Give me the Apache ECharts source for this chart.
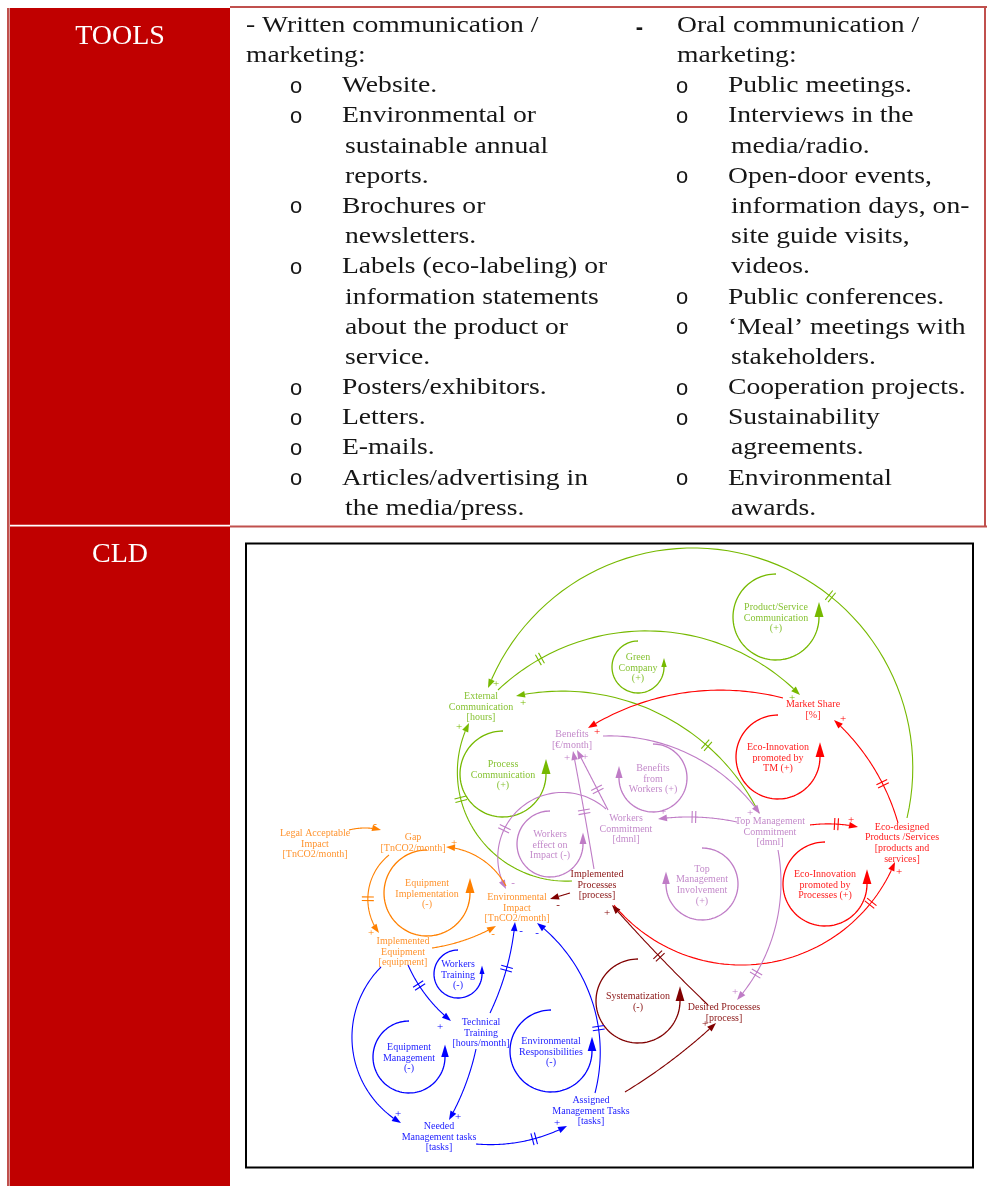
<!DOCTYPE html>
<html><head><meta charset="utf-8">
<script src="https://cdn.jsdelivr.net/npm/echarts@6/dist/echarts.min.js"></script>
<style>html,body{margin:0;padding:0;background:#fff}#c{width:987px;height:1186px}</style>
</head><body><div id="c"></div>
<script>
// ---------------- DATA ----------------
const ROW_LABELS = ['TOOLS', 'CLD'];
const WRITTEN_HEAD = ['- Written communication /', 'marketing:'];
const WRITTEN_ITEMS = [
  ['Website.'],
  ['Environmental or', 'sustainable annual', 'reports.'],
  ['Brochures or', 'newsletters.'],
  ['Labels (eco-labeling) or', 'information statements', 'about the product or', 'service.'],
  ['Posters/exhibitors.'],
  ['Letters.'],
  ['E-mails.'],
  ['Articles/advertising in', 'the media/press.']
];
const ORAL_HEAD = ['Oral communication /', 'marketing:'];
const ORAL_ITEMS = [
  ['Public meetings.'],
  ['Interviews in the', 'media/radio.'],
  ['Open-door events,', 'information days, on-', 'site guide visits,', 'videos.'],
  ['Public conferences.'],
  ['\u2018Meal\u2019 meetings with', 'stakeholders.'],
  ['Cooperation projects.'],
  ['Sustainability', 'agreements.'],
  ['Environmental', 'awards.']
];

// CLD variables: [label, group, x, y]
const CLD_NODES = [
  ['External\nCommunication\n[hours]', 'green', 481, 707],
  ['Market Share\n[%]', 'red', 813, 710],
  ['Benefits\n[\u20ac/month]', 'purple', 572, 740],
  ['Workers\nCommitment\n[dmnl]', 'purple', 626, 829],
  ['Top Management\nCommitment\n[dmnl]', 'purple', 770, 832],
  ['Eco-designed\nProducts /Services\n[products and\nservices]', 'red', 902, 843],
  ['Implemented\nProcesses\n[process]', 'maroon', 597, 885],
  ['Environmental\nImpact\n[TnCO2/month]', 'orange', 517, 908],
  ['Legal Acceptable\nImpact\n[TnCO2/month]', 'orange', 315, 844],
  ['Gap\n[TnCO2/month]', 'orange', 413, 843],
  ['Implemented\nEquipment\n[equipment]', 'orange', 403, 952],
  ['Technical\nTraining\n[hours/month]', 'blue', 481, 1033],
  ['Needed\nManagement tasks\n[tasks]', 'blue', 439, 1137],
  ['Assigned\nManagement Tasks\n[tasks]', 'blue', 591, 1111],
  ['Desired Processes\n[process]', 'maroon', 724, 1013]
];

// CLD loops: [label, group, cx, cy, r, dir(-1 ccw, 1 cw)]
const CLD_LOOPS = [
  ['Process\nCommunication\n(+)', 'green', 503, 774, 43, -1],
  ['Green\nCompany\n(+)', 'green', 638, 667, 26, -1],
  ['Product/Service\nCommunication\n(+)', 'green', 776, 617, 43, -1],
  ['Eco-Innovation\npromoted by\nTM (+)', 'red', 778, 757, 42, -1],
  ['Eco-Innovation\npromoted by\nProcesses (+)', 'red', 825, 884, 42, -1],
  ['Benefits\nfrom\nWorkers (+)', 'purple', 653, 778, 34, 1],
  ['Workers\neffect on\nImpact (-)', 'purple', 550, 844, 33, -1],
  ['Top\nManagement\nInvolvement\n(+)', 'purple', 702, 884, 36, 1],
  ['Equipment\nImplementation\n(-)', 'orange', 427, 893, 43, -1],
  ['Workers\nTraining\n(-)', 'blue', 458, 974, 24, -1],
  ['Equipment\nManagement\n(-)', 'blue', 409, 1057, 36, -1],
  ['Environmental\nResponsibilities\n(-)', 'blue', 551, 1051, 41, -1],
  ['Systematization\n(-)', 'maroon', 638, 1001, 42, -1]
];

// CLD causal links: start point, point on arc, end point, polarity, polarity spot, delay position along link
const CLD_LINKS = [
  {from:'Eco-designed', to:'External Communication', grp:'green', s:[907,818], v:[690,548], e:[488,688], sign:'+', lab:[496,684], delay:0.38},
  {from:'External Communication', to:'Market Share', grp:'green', s:[498,690], v:[640,631], e:[800,695], sign:'+', lab:[792,698], delay:0.15},
  {from:'Top Management Commitment', to:'External Communication', grp:'green', s:[759,813], v:[687,730], e:[516,696], sign:'+', lab:[523,703], delay:0.3},
  {from:'Implemented Processes', to:'External Communication', grp:'green', s:[572,881], v:[461,800], e:[469,723], sign:'+', lab:[459,727], delay:0.65},
  {from:'Market Share', to:'Benefits', grp:'red', s:[783,698], v:[690,692], e:[588,728], sign:'+', lab:[597,732], delay:null},
  {from:'Eco-designed', to:'Market Share', grp:'red', s:[898,823], v:[863,752], e:[834,720], sign:'+', lab:[843,719], delay:0.35},
  {from:'Top Management Commitment', to:'Eco-designed', grp:'red', s:[810,825], v:[834,824], e:[858,827], sign:'+', lab:[851,820], delay:0.55},
  {from:'Implemented Processes', to:'Eco-designed', grp:'red', s:[614,905], v:[740,965], e:[895,862], sign:'+', lab:[899,872], delay:0.86},
  {from:'Workers Commitment', to:'Benefits', grp:'purple', s:[608,810], v:[593,781], e:[577,750], sign:'+', lab:[585,757], delay:0.35},
  {from:'Implemented Processes', to:'Benefits', grp:'purple', s:[594,869], v:[584,811], e:[573,751], sign:'+', lab:[567,758], delay:0.49},
  {from:'Benefits', to:'Top Management Commitment', grp:'purple', s:[603,736], v:[680,750], e:[760,814], sign:'+', lab:[750,813], delay:null},
  {from:'Top Management Commitment', to:'Workers Commitment', grp:'purple', s:[737,822], v:[693,817], e:[658,819], sign:'+', lab:[663,812], delay:0.55},
  {from:'Workers Commitment', to:'Environmental Impact', grp:'purple', s:[606,809], v:[523,806], e:[506,889], sign:'-', lab:[513,883], delay:0.66},
  {from:'Top Management Commitment', to:'Desired Processes', grp:'purple', s:[778,850], v:[778,915], e:[737,1000], sign:'+', lab:[735,992], delay:0.8},
  {from:'Legal Acceptable Impact', to:'Gap', grp:'orange', s:[349,830], v:[365,828], e:[381,830], sign:'-', lab:[375,824], delay:null},
  {from:'Environmental Impact', to:'Gap', grp:'orange', s:[506,886], v:[478,857], e:[446,847], sign:'+', lab:[454,843], delay:null},
  {from:'Gap', to:'Implemented Equipment', grp:'orange', s:[389,855], v:[368,895], e:[379,933], sign:'+', lab:[371,933], delay:0.58},
  {from:'Implemented Equipment', to:'Environmental Impact', grp:'orange', s:[432,948], v:[465,940], e:[496,926], sign:'-', lab:[493,934], delay:null},
  {from:'Implemented Processes', to:'Environmental Impact', grp:'maroon', s:[570,893], v:[560,896], e:[550,899], sign:'-', lab:[558,905], delay:null},
  {from:'Desired Processes', to:'Implemented Processes', grp:'maroon', s:[708,1005], v:[659,956], e:[612,905], sign:'+', lab:[607,913], delay:0.5},
  {from:'Assigned Management Tasks', to:'Desired Processes', grp:'maroon', s:[625,1092], v:[672,1060], e:[716,1023], sign:'+', lab:[705,1024], delay:null},
  {from:'Technical Training', to:'Environmental Impact', grp:'blue', s:[490,1013], v:[507,967], e:[515,922], sign:'-', lab:[521,931], delay:0.5},
  {from:'Assigned Management Tasks', to:'Environmental Impact', grp:'blue', s:[595,1093], v:[588,990], e:[537,923], sign:'-', lab:[537,933], delay:0.35},
  {from:'Implemented Equipment', to:'Technical Training', grp:'blue', s:[408,965], v:[425,994], e:[451,1021], sign:'+', lab:[440,1027], delay:0.33},
  {from:'Implemented Equipment', to:'Needed Management tasks', grp:'blue', s:[381,967], v:[352,1040], e:[401,1123], sign:'+', lab:[398,1114], delay:null},
  {from:'Technical Training', to:'Needed Management tasks', grp:'blue', s:[476,1049], v:[465,1086], e:[449,1120], sign:'+', lab:[458,1117], delay:null},
  {from:'Needed Management tasks', to:'Assigned Management Tasks', grp:'blue', s:[476,1144], v:[525,1141], e:[567,1126], sign:'+', lab:[557,1123], delay:0.62}
];

// ---------------- STYLE ----------------
const GRP = {
  green:  {line:'#76b900', text:'#86c232'},
  red:    {line:'#ff0000', text:'#ff1f1f'},
  purple: {line:'#bf7cc6', text:'#c48bcb'},
  orange: {line:'#ff8000', text:'#ff9430'},
  maroon: {line:'#800000', text:'#8a1515'},
  blue:   {line:'#0000ff', text:'#2323ff'}
};
const CLD_FONT = '10px "Liberation Serif"';
const CLD_LH = 10.7;
const TXT_FONT = '24px "Liberation Serif"';
const TXT_SX = 1.15;
const LINE0 = 25.5, LINE_H = 30.19;

// ---------------- HELPERS ----------------
function arcPts(a, m, b, n) {
  const lin = () => { const r = []; for (let i = 0; i <= n; i++) { const t = i / n; r.push([a[0] + (b[0] - a[0]) * t, a[1] + (b[1] - a[1]) * t]); } return r; };
  const d = 2 * (a[0] * (m[1] - b[1]) + m[0] * (b[1] - a[1]) + b[0] * (a[1] - m[1]));
  if (Math.abs(d) < 1e-9) return lin();
  const A = a[0]*a[0] + a[1]*a[1], M = m[0]*m[0] + m[1]*m[1], B = b[0]*b[0] + b[1]*b[1];
  const ux = (A * (m[1] - b[1]) + M * (b[1] - a[1]) + B * (a[1] - m[1])) / d;
  const uy = (A * (b[0] - m[0]) + M * (a[0] - b[0]) + B * (m[0] - a[0])) / d;
  const r = Math.hypot(a[0] - ux, a[1] - uy);
  if (r > 20000) return lin();
  const TAU = Math.PI * 2, nm = x => ((x % TAU) + TAU) % TAU;
  const t0 = Math.atan2(a[1] - uy, a[0] - ux), tm = Math.atan2(m[1] - uy, m[0] - ux), t1 = Math.atan2(b[1] - uy, b[0] - ux);
  const d1 = nm(t1 - t0), dm = nm(tm - t0);
  const sw = dm <= d1 ? d1 : d1 - TAU;
  const out = [];
  for (let i = 0; i <= n; i++) { const t = t0 + sw * i / n; out.push([ux + r * Math.cos(t), uy + r * Math.sin(t)]); }
  return out;
}
function unit(p, q) { const dx = q[0] - p[0], dy = q[1] - p[1]; const l = Math.hypot(dx, dy) || 1; return [dx / l, dy / l]; }

function tText(txt, x, i) {
  return {type:'text', x:x, y:LINE0 + LINE_H * i, scaleX:TXT_SX, z:5,
    style:{text:txt, fill:'#161616', font:TXT_FONT, textAlign:'left', align:'left', textVerticalAlign:'middle', verticalAlign:'middle'}};
}
function tBullet(x, i) {
  return {type:'text', x:x, y:LINE0 + LINE_H * i + 1, z:5,
    style:{text:'o', fill:'#161616', font:'22px "Liberation Mono"', textAlign:'center', align:'center', textVerticalAlign:'middle', verticalAlign:'middle'}};
}
function column(head, items, xHead, xBullet, xText, xCont) {
  const out = [];
  head.forEach((h, i) => out.push(tText(h, xHead, i)));
  let li = head.length;
  items.forEach(item => {
    out.push(tBullet(xBullet, li));
    item.forEach((t, j) => { out.push(tText(t, j === 0 ? xText : xCont, li)); li++; });
  });
  return out;
}

// ---------------- TABLE GRAPHICS ----------------
const BORDER = '#c0504d', CELL_RED = '#c00000';
const graphic = [
  {type:'rect', z:1, shape:{x:10, y:8, width:220, height:1178}, style:{fill:CELL_RED}},
  {type:'rect', z:1, shape:{x:7, y:8, width:2.6, height:1178}, style:{fill:BORDER}},
  {type:'rect', z:1, shape:{x:230, y:6, width:757, height:2}, style:{fill:BORDER}},
  {type:'rect', z:1, shape:{x:984, y:6, width:2, height:521}, style:{fill:BORDER}},
  {type:'rect', z:1, shape:{x:230, y:525.5, width:757, height:2}, style:{fill:BORDER}},
  {type:'rect', z:1, shape:{x:10, y:524.8, width:220, height:1.6}, style:{fill:'#ffffff'}},
  {type:'rect', z:1, shape:{x:246, y:543.5, width:727, height:624}, style:{fill:'#ffffff', stroke:'#000000', lineWidth:2}},
  {type:'text', z:5, x:120, y:36.5, style:{text:ROW_LABELS[0], fill:'#ffffff', font:'28px "Liberation Serif"', textAlign:'center', align:'center', textVerticalAlign:'middle', verticalAlign:'middle'}},
  {type:'text', z:5, x:120, y:555, style:{text:ROW_LABELS[1], fill:'#ffffff', font:'28px "Liberation Serif"', textAlign:'center', align:'center', textVerticalAlign:'middle', verticalAlign:'middle'}},
  {type:'text', z:5, x:639.5, y:27.5, style:{text:'-', fill:'#161616', font:'bold 22px "Liberation Sans"', textAlign:'center', align:'center', textVerticalAlign:'middle', verticalAlign:'middle'}}
].concat(
  column(WRITTEN_HEAD, WRITTEN_ITEMS, 246, 296, 342, 345),
  column(ORAL_HEAD, ORAL_ITEMS, 677, 682, 728, 731)
);

// ---------------- RENDERERS ----------------
function linkRender(params, api) {
  const e = CLD_LINKS[params.dataIndex];
  const col = GRP[e.grp].line;
  const a = api.coord(e.s), m = api.coord(e.v), b = api.coord(e.e);
  const pts = arcPts(a, m, b, 64);
  const n = pts.length;
  const tip = pts[n - 1];
  const dir = unit(pts[n - 3], tip);
  const L = 9, W = 3.3;
  const base = [tip[0] - dir[0] * L, tip[1] - dir[1] * L];
  const nrm = [-dir[1], dir[0]];
  const linePts = pts.slice();
  while (linePts.length > 2 && Math.hypot(linePts[linePts.length - 1][0] - tip[0], linePts[linePts.length - 1][1] - tip[1]) < L) linePts.pop();
  linePts.push(base);
  const children = [
    {type:'polyline', shape:{points:linePts}, style:{stroke:col, lineWidth:1.1, fill:null}},
    {type:'polygon', shape:{points:[tip, [base[0] + nrm[0] * W, base[1] + nrm[1] * W], [base[0] - nrm[0] * W, base[1] - nrm[1] * W]]}, style:{fill:col}}
  ];
  if (e.delay != null) {
    const k = Math.max(1, Math.min(n - 2, Math.round(e.delay * (n - 1))));
    const p = pts[k], t = unit(pts[k - 1], pts[k + 1]), q = [-t[1], t[0]];
    [-1.8, 1.8].forEach(s => {
      const c = [p[0] + t[0] * s, p[1] + t[1] * s];
      children.push({type:'line', shape:{x1:c[0] - q[0] * 6, y1:c[1] - q[1] * 6, x2:c[0] + q[0] * 6, y2:c[1] + q[1] * 6}, style:{stroke:col, lineWidth:1.1}});
    });
  }
  const lp = api.coord(e.lab);
  children.push({type:'text', x:lp[0], y:lp[1], style:{text:e.sign, fill:col, font:'11px "Liberation Serif"', textAlign:'center', align:'center', textVerticalAlign:'middle', verticalAlign:'middle'}});
  return {type:'group', children:children};
}

function loopRender(params, api) {
  const Lp = CLD_LOOPS[params.dataIndex];
  const col = GRP[Lp[1]].line;
  const c = api.coord([Lp[2], Lp[3]]);
  const R = api.size([Lp[4], Lp[4]])[0];
  const dir = Lp[5];
  const N = 80, th0 = -Math.PI / 2, th1 = -Math.PI / 2 + dir * 1.5 * Math.PI;
  const pts = [];
  for (let i = 0; i <= N; i++) { const th = th0 + (th1 - th0) * i / N; pts.push([c[0] + R * Math.cos(th), c[1] + R * Math.sin(th)]); }
  const end = pts[N];
  const al = Math.max(8, Math.min(15, 0.35 * R)), aw = al * 0.3;
  return {type:'group', children:[
    {type:'polyline', shape:{points:pts}, style:{stroke:col, lineWidth:1.3, fill:null}},
    {type:'polygon', shape:{points:[[end[0], end[1] - al], [end[0] - aw, end[1]], [end[0] + aw, end[1]]]}, style:{fill:col}},
    {type:'text', x:c[0], y:c[1] + 1, style:{text:Lp[0], fill:GRP[Lp[1]].text, font:CLD_FONT, lineHeight:CLD_LH, textAlign:'center', align:'center', textVerticalAlign:'middle', verticalAlign:'middle'}}
  ]};
}

function nodeRender(params, api) {
  const nd = CLD_NODES[params.dataIndex];
  const p = api.coord([nd[2], nd[3]]);
  return {type:'text', x:p[0], y:p[1], style:{text:nd[0], fill:GRP[nd[1]].text, font:CLD_FONT, lineHeight:CLD_LH, textAlign:'center', align:'center', textVerticalAlign:'middle', verticalAlign:'middle'}};
}

// ---------------- CHART ----------------
const chart = echarts.init(document.getElementById('c'), null, {renderer:'canvas', devicePixelRatio:1});
chart.setOption({
  animation:false,
  backgroundColor:'#ffffff',
  grid:{left:0, right:0, top:0, bottom:0, containLabel:false},
  xAxis:{type:'value', min:0, max:987, show:false},
  yAxis:{type:'value', min:0, max:1186, inverse:true, show:false},
  graphic:graphic,
  series:[
    {type:'custom', name:'loops', z:10, clip:false, renderItem:loopRender, encode:{x:0, y:1}, data:CLD_LOOPS.map(l => [l[2], l[3]])},
    {type:'custom', name:'links', z:11, clip:false, renderItem:linkRender, encode:{x:0, y:1}, data:CLD_LINKS.map(l => l.e)},
    {type:'custom', name:'variables', z:12, clip:false, renderItem:nodeRender, encode:{x:0, y:1}, data:CLD_NODES.map(n => [n[2], n[3]])}
  ]
});
</script></body></html>
